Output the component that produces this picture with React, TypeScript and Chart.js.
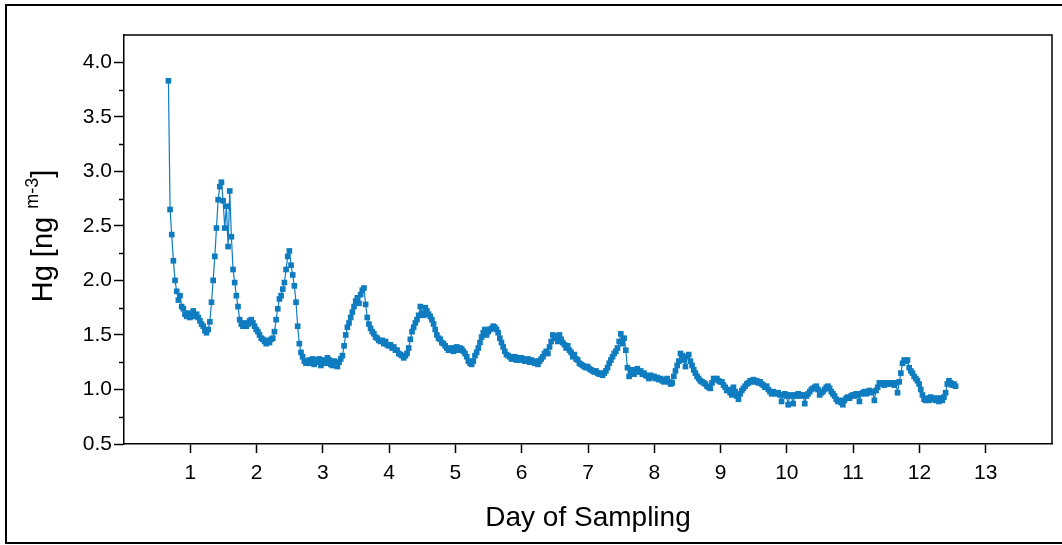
import React, { useEffect, useRef } from 'react';
import { Chart, registerables } from 'chart.js';

Chart.register(...registerables);

// Sampling grid: first sample at day 0.67, one sample every 0.025 day
const START_DAY = 0.67;
const STEP_DAY = 0.025;

// Hg concentration (ng m-3), one array per day of sampling
const hgDay0 = [3.83, 2.65, 2.42, 2.18, 2.00, 1.90, 1.82, 1.86, 1.76, 1.74, 1.69, 1.67, 1.70, 1.66];
const hgDay1 = [1.68, 1.72, 1.67, 1.69, 1.66, 1.63, 1.60, 1.58, 1.54, 1.52, 1.55, 1.62, 1.80, 2.00, 2.22, 2.48, 2.74, 2.86, 2.90, 2.73, 2.48, 2.68, 2.31, 2.82, 2.40, 2.10, 1.98, 1.86, 1.76, 1.64, 1.60, 1.58, 1.61, 1.58, 1.60, 1.63, 1.64, 1.61, 1.58, 1.55];
const hgDay2 = [1.53, 1.50, 1.47, 1.46, 1.44, 1.42, 1.45, 1.43, 1.46, 1.47, 1.53, 1.64, 1.74, 1.83, 1.86, 1.92, 1.98, 2.10, 2.22, 2.27, 2.14, 2.05, 1.95, 1.80, 1.58, 1.42, 1.34, 1.30, 1.26, 1.24, 1.25, 1.27, 1.24, 1.28, 1.23, 1.27, 1.25, 1.28, 1.22, 1.26];
const hgDay3 = [1.27, 1.24, 1.29, 1.27, 1.23, 1.22, 1.26, 1.22, 1.21, 1.25, 1.28, 1.31, 1.40, 1.50, 1.57, 1.61, 1.66, 1.71, 1.76, 1.81, 1.84, 1.79, 1.87, 1.91, 1.93, 1.78, 1.66, 1.60, 1.56, 1.53, 1.51, 1.48, 1.47, 1.45, 1.44, 1.45, 1.42, 1.44, 1.41, 1.40];
const hgDay4 = [1.41, 1.38, 1.39, 1.36, 1.36, 1.33, 1.32, 1.31, 1.29, 1.31, 1.33, 1.38, 1.46, 1.53, 1.57, 1.61, 1.64, 1.68, 1.76, 1.70, 1.68, 1.75, 1.72, 1.69, 1.67, 1.64, 1.60, 1.55, 1.50, 1.47, 1.46, 1.43, 1.42, 1.40, 1.38, 1.36, 1.36, 1.38, 1.35, 1.38];
const hgDay5 = [1.39, 1.36, 1.38, 1.37, 1.35, 1.33, 1.30, 1.26, 1.24, 1.23, 1.26, 1.31, 1.34, 1.38, 1.43, 1.48, 1.52, 1.55, 1.50, 1.53, 1.55, 1.56, 1.58, 1.57, 1.55, 1.52, 1.47, 1.43, 1.39, 1.35, 1.32, 1.31, 1.30, 1.28, 1.28, 1.30, 1.27, 1.29, 1.27, 1.29];
const hgDay6 = [1.28, 1.26, 1.26, 1.28, 1.25, 1.27, 1.25, 1.24, 1.26, 1.23, 1.26, 1.28, 1.30, 1.33, 1.35, 1.33, 1.39, 1.44, 1.50, 1.47, 1.49, 1.44, 1.50, 1.46, 1.43, 1.41, 1.38, 1.40, 1.36, 1.34, 1.30, 1.32, 1.28, 1.27, 1.24, 1.23, 1.22, 1.21, 1.20, 1.21];
const hgDay7 = [1.19, 1.18, 1.17, 1.16, 1.17, 1.15, 1.14, 1.15, 1.13, 1.15, 1.17, 1.20, 1.24, 1.27, 1.30, 1.33, 1.35, 1.38, 1.44, 1.51, 1.42, 1.47, 1.36, 1.20, 1.12, 1.16, 1.18, 1.14, 1.17, 1.19, 1.16, 1.17, 1.14, 1.15, 1.13, 1.12, 1.10, 1.13, 1.11, 1.12];
const hgDay8 = [1.10, 1.11, 1.09, 1.10, 1.08, 1.07, 1.09, 1.10, 1.07, 1.05, 1.06, 1.12, 1.17, 1.22, 1.26, 1.33, 1.31, 1.27, 1.21, 1.30, 1.32, 1.26, 1.22, 1.18, 1.15, 1.12, 1.10, 1.08, 1.07, 1.06, 1.05, 1.03, 1.02, 1.01, 1.06, 1.10, 1.09, 1.10, 1.08, 1.07];
const hgDay9 = [1.07, 1.04, 1.02, 0.99, 1.00, 0.97, 0.95, 1.02, 0.98, 0.94, 0.91, 0.96, 0.99, 1.01, 1.03, 1.05, 1.06, 1.08, 1.07, 1.09, 1.07, 1.08, 1.06, 1.07, 1.05, 1.04, 1.02, 1.03, 1.00, 0.98, 0.96, 0.98, 0.97, 0.96, 0.97, 0.95, 0.89, 0.95, 0.96, 0.94];
const hgDay10 = [0.86, 0.95, 0.94, 0.87, 0.95, 0.94, 0.96, 0.95, 0.94, 0.95, 0.87, 0.94, 0.96, 0.98, 1.00, 1.01, 1.02, 1.03, 1.00, 0.95, 0.97, 0.98, 1.00, 1.02, 1.03, 1.01, 0.98, 0.96, 0.94, 0.91, 0.89, 0.90, 0.88, 0.86, 0.90, 0.92, 0.93, 0.92, 0.94, 0.95];
const hgDay11 = [0.94, 0.96, 0.95, 0.89, 0.96, 0.97, 0.98, 0.96, 0.98, 0.99, 0.97, 0.98, 0.90, 0.99, 1.02, 1.06, 1.05, 1.06, 1.04, 1.06, 1.05, 1.06, 1.05, 1.06, 1.04, 1.06, 0.97, 1.07, 1.15, 1.24, 1.27, 1.26, 1.27, 1.20, 1.17, 1.15, 1.12, 1.10, 1.08, 1.05];
const hgDay12 = [1.00, 0.95, 0.91, 0.90, 0.92, 0.90, 0.93, 0.91, 0.92, 0.90, 0.92, 0.89, 0.92, 0.90, 0.93, 0.97, 1.05, 1.08, 1.06, 1.04, 1.05, 1.03];

const hgValues = [
  ...hgDay0, ...hgDay1, ...hgDay2, ...hgDay3, ...hgDay4, ...hgDay5, ...hgDay6,
  ...hgDay7, ...hgDay8, ...hgDay9, ...hgDay10, ...hgDay11, ...hgDay12,
];

const X_TICKS = [1, 2, 3, 4, 5, 6, 7, 8, 9, 10, 11, 12, 13];
const Y_TICKS = [0.5, 1.0, 1.5, 2.0, 2.5, 3.0, 3.5, 4.0];
const Y_MINOR_TICKS = [0.75, 1.25, 1.75, 2.25, 2.75, 3.25, 3.75];

const X_TITLE = 'Day of Sampling';
const Y_TITLE_MAIN = 'Hg [ng ';
const Y_TITLE_SUP = 'm-3';
const Y_TITLE_END = ']';

const BLUE = '#0f7cc0';
const FONT = '"Liberation Sans", Arial, sans-serif';

const framePlugin = {
  id: 'framePlugin',
  afterDraw(chart: any) {
    const { ctx, chartArea } = chart;
    const y = chart.scales.y;
    ctx.save();
    ctx.strokeStyle = '#000';
    ctx.lineWidth = 1.5;
    // top and right border of the plot box
    ctx.beginPath();
    ctx.moveTo(chartArea.left, chartArea.top);
    ctx.lineTo(chartArea.right, chartArea.top);
    ctx.lineTo(chartArea.right, chartArea.bottom);
    ctx.stroke();
    // minor y ticks
    ctx.beginPath();
    for (const v of Y_MINOR_TICKS) {
      const py = Math.round(y.getPixelForValue(v)) + 0.5;
      ctx.moveTo(chartArea.left - 5, py);
      ctx.lineTo(chartArea.left, py);
    }
    ctx.stroke();

    // x title
    ctx.fillStyle = '#000';
    ctx.font = `28px ${FONT}`;
    ctx.textAlign = 'center';
    ctx.textBaseline = 'middle';
    ctx.fillText(X_TITLE, (chartArea.left + chartArea.right) / 2, 518);

    // y title with superscript
    const mainFont = `29px ${FONT}`;
    const supFont = `18px ${FONT}`;
    ctx.font = mainFont;
    const w1 = ctx.measureText(Y_TITLE_MAIN).width;
    const w3 = ctx.measureText(Y_TITLE_END).width;
    ctx.font = supFont;
    const w2 = ctx.measureText(Y_TITLE_SUP).width;
    const total = w1 + w2 + w3;
    const cx = 52;
    const cy = 236;
    ctx.translate(cx, cy);
    ctx.rotate(-Math.PI / 2);
    ctx.textAlign = 'left';
    ctx.textBaseline = 'alphabetic';
    let x0 = -total / 2;
    ctx.font = mainFont;
    ctx.fillText(Y_TITLE_MAIN, x0, 0);
    x0 += w1;
    ctx.font = supFont;
    ctx.fillText(Y_TITLE_SUP, x0, -14);
    x0 += w2;
    ctx.font = mainFont;
    ctx.fillText(Y_TITLE_END, x0, 0);
    ctx.restore();
  },
};

export default function App() {
  const canvasRef = useRef<HTMLCanvasElement>(null);

  useEffect(() => {
    document.body.style.margin = '0';
    const canvas = canvasRef.current;
    if (!canvas) return;
    const points = hgValues.map((v, i) => ({ x: START_DAY + i * STEP_DAY, y: v }));
    const chart = new Chart(canvas, {
      type: 'line',
      data: {
        datasets: [
          {
            data: points,
            borderColor: BLUE,
            borderWidth: 1.2,
            backgroundColor: BLUE,
            pointStyle: 'rect',
            pointRadius: 4,
            pointBackgroundColor: BLUE,
            pointBorderWidth: 0,
            tension: 0,
            fill: false,
          },
        ],
      },
      options: {
        animation: false,
        responsive: false,
        maintainAspectRatio: false,
        layout: { padding: { top: 35, right: 10, left: 0, bottom: 0 } },
        plugins: {
          legend: { display: false },
          tooltip: { enabled: false },
        },
        scales: {
          x: {
            type: 'linear',
            min: 0,
            max: 14,
            afterBuildTicks: (s: any) => {
              s.ticks = X_TICKS.map((v) => ({ value: v }));
            },
            afterFit: (s: any) => {
              s.height = 101;
            },
            grid: {
              drawOnChartArea: false,
              drawTicks: true,
              tickLength: 9,
              tickColor: '#000',
              tickWidth: 1.5,
            },
            border: { color: '#000', width: 1.5 },
            ticks: {
              color: '#000',
              font: { family: FONT, size: 21 },
              padding: 8,
              maxRotation: 0,
              autoSkip: false,
              callback: (v: any) => String(v),
            },
          },
          y: {
            type: 'linear',
            min: 0.5,
            max: 4.25,
            afterBuildTicks: (s: any) => {
              s.ticks = Y_TICKS.map((v) => ({ value: v }));
            },
            afterFit: (s: any) => {
              s.width = 124;
            },
            grid: {
              drawOnChartArea: false,
              drawTicks: true,
              tickLength: 10,
              tickColor: '#000',
              tickWidth: 1.5,
            },
            border: { color: '#000', width: 1.5 },
            ticks: {
              color: '#000',
              font: { family: FONT, size: 21 },
              padding: 2,
              autoSkip: false,
              callback: (v: any) => Number(v).toFixed(1),
            },
          },
        },
      },
      plugins: [framePlugin],
    });
    return () => chart.destroy();
  }, []);

  return (
    <div style={{ position: 'relative', width: 1062, height: 545, overflow: 'hidden', background: '#fff' }}>
      <div
        style={{
          position: 'absolute',
          left: 5,
          top: 4,
          width: 1070,
          height: 540,
          border: '2px solid #000',
          boxSizing: 'border-box',
        }}
      />
      <canvas
        ref={canvasRef}
        width={1062}
        height={545}
        style={{ position: 'absolute', left: 0, top: 0, width: 1062, height: 545 }}
      />
    </div>
  );
}
